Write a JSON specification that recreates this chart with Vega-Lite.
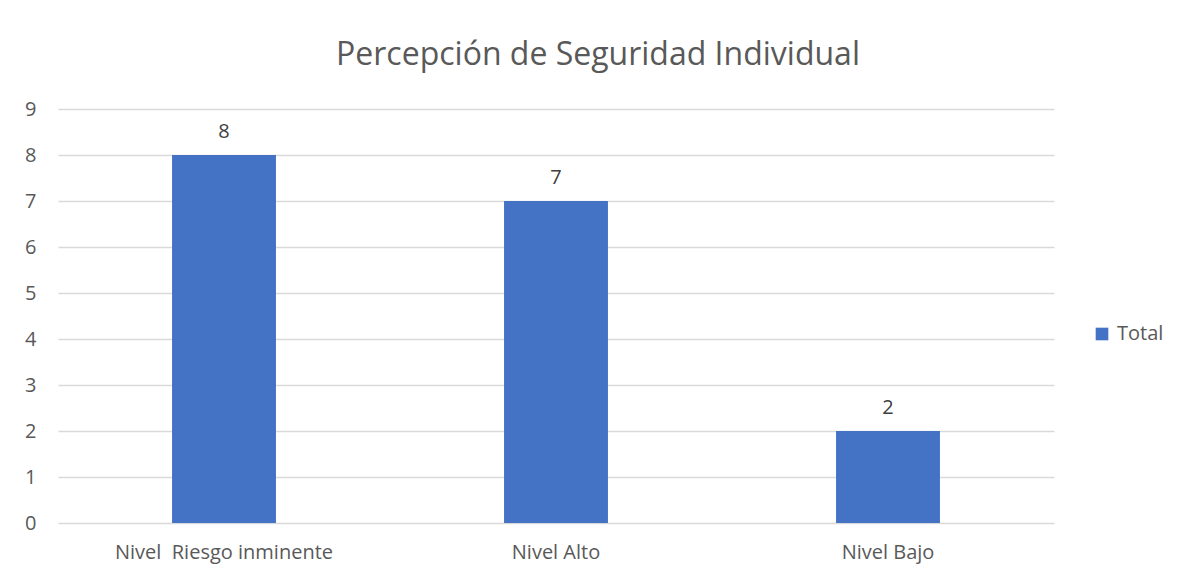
{
  "$schema": "https://vega.github.io/schema/vega-lite/v6.json",
  "autosize": "none",
  "width": 996,
  "height": 414,
  "padding": {"left": 58, "top": 109, "right": 126, "bottom": 54},
  "background": "white",
  "config": {
    "view": {"stroke": null},
    "font": "Open Sans",
    "text": {"font": "Open Sans"}
  },
  "title": {
    "text": "Percepción de Seguridad Individual",
    "fontSize": 32,
    "fontWeight": "normal",
    "color": "#595959",
    "font": "Open Sans",
    "anchor": "middle",
    "dx": 42,
    "offset": 27
  },
  "data": {
    "values": [
      {"categoria": "Nivel\u00a0 Riesgo inminente", "valor": 8, "serie": "Total"},
      {"categoria": "Nivel Alto", "valor": 7, "serie": "Total"},
      {"categoria": "Nivel Bajo", "valor": 2, "serie": "Total"}
    ]
  },
  "encoding": {
    "x": {
      "field": "categoria",
      "type": "nominal",
      "sort": null,
      "scale": {"paddingInner": 0.687, "paddingOuter": 0.3435},
      "axis": {
        "title": null,
        "labelAngle": 0,
        "labelFontSize": 20,
        "labelColor": "#595959",
        "labelFont": "Open Sans",
        "labelPadding": 19,
        "labelLimit": 0,
        "ticks": false,
        "domain": false,
        "grid": false
      }
    },
    "y": {
      "field": "valor",
      "type": "quantitative",
      "scale": {"domain": [0, 9], "nice": false},
      "axis": {
        "title": null,
        "values": [0, 1, 2, 3, 4, 5, 6, 7, 8, 9],
        "labelFontSize": 20,
        "labelColor": "#595959",
        "labelFont": "Open Sans",
        "labelPadding": 22,
        "ticks": false,
        "domain": false,
        "grid": true,
        "gridColor": "#d9d9d9",
        "gridWidth": 1.5
      }
    }
  },
  "layer": [
    {
      "mark": {"type": "bar", "cornerRadius": 0},
      "encoding": {
        "color": {
          "field": "serie",
          "type": "nominal",
          "scale": {"range": ["#4472c4"]},
          "legend": {
            "title": null,
            "orient": "none",
            "legendX": 1034,
            "legendY": 215,
            "symbolType": "square",
            "symbolSize": 160,
            "labelFontSize": 20,
            "labelColor": "#595959",
            "labelFont": "Open Sans",
            "labelOffset": 5
          }
        }
      }
    },
    {
      "mark": {
        "type": "text",
        "baseline": "bottom",
        "dy": -13,
        "fontSize": 20,
        "color": "#404040",
        "font": "Open Sans"
      },
      "encoding": {"text": {"field": "valor", "type": "quantitative"}}
    }
  ]
}
